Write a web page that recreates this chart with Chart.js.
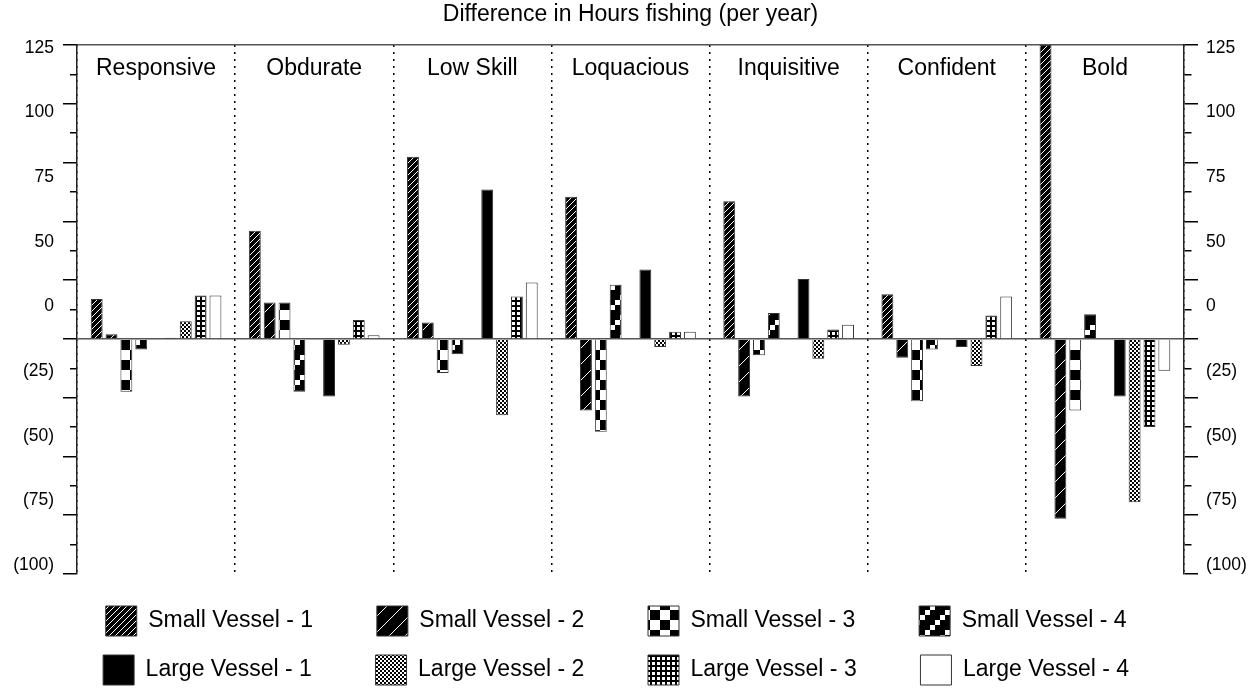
<!DOCTYPE html>
<html>
<head>
<meta charset="utf-8">
<script src="https://cdn.jsdelivr.net/npm/chart.js@4.4.1/dist/chart.umd.min.js"></script>
<style>
  html, body { margin: 0; padding: 0; background: #fff; }
  #wrap { width: 1257px; height: 695px; }
</style>
</head>
<body>
<div id="wrap"><canvas id="myChart"></canvas></div>
<script>
// categories and values
const categories = ["Responsive", "Obdurate", "Low Skill", "Loquacious", "Inquisitive", "Confident", "Bold"];
const smallVessel1 = [17, 46, 77.5, 60.5, 58.5, 19, 125];
const smallVessel2 = [2, 15.5, 7, -30.5, -24.5, -8, -76.5];
const smallVessel3 = [-22.5, 15.5, -14.5, -39.5, -7, -26.5, -30.5];
const smallVessel4 = [-4.5, -22.5, -6.5, 23, 11, -4.5, 10.5];
const largeVessel1 = [0.5, -24.5, 63.5, 29.5, 25.5, -3.5, -24.5];
const largeVessel2 = [7.5, -2.5, -32.5, -3.5, -8.5, -11.5, -69.5];
const largeVessel3 = [18.5, 8, 18, 3, 4, 10, -37.5];
const largeVessel4 = [18.5, 1.5, 24, 3, 6, 18, -13.5];

// y axis: tick marks and (offset) tick labels as in the original
const yMajorTicks = [125, 100, 75, 50, 25, 0, -25, -50, -75, -100];
const yMinorTicks = [112.5, 87.5, 62.5, 37.5, 12.5, -12.5, -37.5, -62.5, -87.5];
const yLabelValues = [123.75, 96.25, 68.75, 41.25, 13.75, -13.75, -41.25, -68.75, -96.25];
const yLabelTexts = ["125", "100", "75", "50", "0", "(25)", "(50)", "(75)", "(100)"];

Chart.defaults.font.family = "'Liberation Sans', Arial, sans-serif";
Chart.defaults.color = "#000";

const ctx = document.getElementById("myChart").getContext("2d");

function tile(size, isWhite) {
  const c = document.createElement("canvas");
  c.width = c.height = size;
  const g = c.getContext("2d");
  const img = g.createImageData(size, size);
  for (let y = 0; y < size; y++) {
    for (let x = 0; x < size; x++) {
      const v = isWhite(x, y) ? 255 : 0;
      const i = (y * size + x) * 4;
      img.data[i] = img.data[i + 1] = img.data[i + 2] = v;
      img.data[i + 3] = 255;
    }
  }
  g.putImageData(img, 0, 0);
  return ctx.createPattern(c, "repeat");
}

const fills = {
  sv1: tile(6, (x, y) => (x + y) % 6 === 0),
  sv2: tile(16, (x, y) => (x + y) % 16 === 0),
  sv3: tile(20, (x, y) => (x < 10) !== (y < 10)),
  sv4: tile(20, (x, y) => (Math.floor(x / 5) + Math.floor(y / 5)) % 4 === 3),
  lv1: "#000",
  lv2: tile(4, (x, y) => (Math.floor(x / 2) + Math.floor(y / 2)) % 2 === 0),
  lv3: tile(5, (x, y) => x % 5 > 1 && y % 5 > 1),
  lv4: "#fff",
};

function bars(label, data, fill) {
  return {
    label: label,
    data: data,
    backgroundColor: fill,
    borderColor: "#333",
    borderWidth: 1,
    categoryPercentage: 0.845,
    barPercentage: 0.8,
  };
}

const datasets = [
  bars("Small Vessel - 1", smallVessel1, fills.sv1),
  bars("Small Vessel - 2", smallVessel2, fills.sv2),
  bars("Small Vessel - 3", smallVessel3, fills.sv3),
  bars("Small Vessel - 4", smallVessel4, fills.sv4),
  bars("", categories.map(() => null), "#fff"), // empty gap between small and large
  bars("Large Vessel - 1", largeVessel1, fills.lv1),
  bars("Large Vessel - 2", largeVessel2, fills.lv2),
  bars("Large Vessel - 3", largeVessel3, fills.lv3),
  bars("Large Vessel - 4", largeVessel4, fills.lv4),
];

const allTicks = yMajorTicks.concat(yMinorTicks, yLabelValues).sort((a, b) => a - b);
const isLabel = (v) => yLabelValues.includes(v);
const isMajor = (v) => yMajorTicks.includes(v);

function setTicks(scale) {
  scale.ticks = allTicks.map((v) => ({ value: v }));
}

function yAxis(position, width, padding, minorDash, gridColor) {
  return {
    type: "linear",
    position: position,
    min: -100,
    max: 125,
    afterBuildTicks: setTicks,
    afterFit: (s) => { s.width = width; },
    grid: {
      drawOnChartArea: gridColor !== null,
      color: (c) => (c.tick && c.tick.value === 0 && gridColor ? gridColor : "rgba(0,0,0,0)"),
      lineWidth: 1.5,
      tickLength: 14,
      tickWidth: 1.5,
      tickColor: (c) => (!c.tick || isLabel(c.tick.value) ? "rgba(0,0,0,0)" : "#000"),
      tickBorderDash: (c) => (c.tick && !isMajor(c.tick.value) ? minorDash : []),
    },
    border: { display: true, color: "#222", width: 1.5 },
    ticks: {
      autoSkip: false,
      padding: padding,
      font: { size: 17.5 },
      color: "#000",
      callback: (v) => {
        const i = yLabelValues.indexOf(v);
        return i >= 0 ? yLabelTexts[i] : "";
      },
    },
  };
}

const myChart = new Chart(ctx, {
  type: "bar",
  data: { labels: categories, datasets: datasets },
  options: {
    responsive: true,
    maintainAspectRatio: false,
    animation: false,
    layout: { padding: { left: 10, right: -10, top: 0, bottom: 0 } },
    scales: {
      x: {
        type: "category",
        position: "bottom",
        offset: true,
        afterFit: (s) => { s.height = 13; },
        grid: { offset: true, color: "#000", lineWidth: 1.5, drawTicks: false },
        border: { display: false, dash: [2, 5] },
        ticks: { display: false },
      },
      x2: {
        type: "category",
        labels: categories,
        position: "top",
        offset: true,
        afterFit: (s) => { s.height = 0; },
        grid: { display: true, drawOnChartArea: false, drawTicks: false },
        border: { display: true, color: "#555", width: 1.5 },
        ticks: { mirror: true, padding: 10, autoSkip: false, maxRotation: 0, font: { size: 23 }, color: "#000" },
      },
      y: yAxis("left", 67, 9, [0, 7, 7, 30], "#555"),
      y2: yAxis("right", 83, 8, [7, 30], null),
    },
    plugins: {
      title: {
        display: true,
        text: "Difference in Hours fishing (per year)",
        fullSize: false,
        color: "#000",
        font: { size: 23, weight: "normal" },
        padding: { top: 1, bottom: 16.4 },
      },
      legend: {
        position: "bottom",
        labels: {
          boxWidth: 31,
          boxHeight: 30,
          padding: 19,
          color: "#000",
          font: { size: 23 },
          generateLabels: (chart) =>
            Chart.defaults.plugins.legend.labels
              .generateLabels(chart)
              .filter((l) => l.text)
              .map((l) => Object.assign(l, { text: l.text + "       " })),
        },
      },
      tooltip: { enabled: false },
    },
  },
});
</script>
</body>
</html>
